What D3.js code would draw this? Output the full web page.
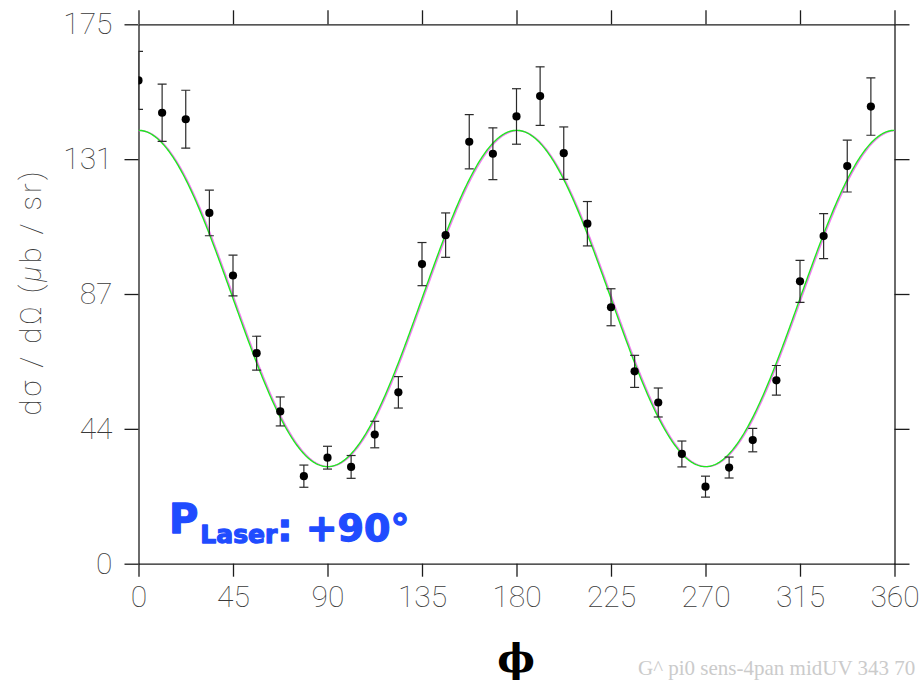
<!DOCTYPE html>
<html>
<head>
<meta charset="utf-8">
<script src="https://cdn.jsdelivr.net/npm/d3@7"></script>
<style>
  html, body { margin: 0; padding: 0; background: #fff; }
  svg { display: block; }
  .tick text { font-family: Roboto, Lato, "DejaVu Sans", sans-serif; font-weight: 100; }
</style>
</head>
<body>
<svg id="chart" width="923" height="686"></svg>
<script>
// Azimuthal angle bins (degrees)
const phiDeg = [0, 11.25, 22.5, 33.75, 45, 56.25, 67.5, 78.75, 90, 101.25, 112.5, 123.75,
  135, 146.25, 157.5, 168.75, 180, 191.25, 202.5, 213.75, 225, 236.25, 247.5, 258.75,
  270, 281.25, 292.5, 303.75, 315, 326.25, 337.5, 348.75];
// Measured dσ/dΩ (μb/sr) and statistical errors
const crossSection = [156.8, 146.3, 144.2, 113.8, 93.5, 68.3, 49.4, 28.4, 34.4, 31.4, 41.9, 55.6,
  97.2, 106.6, 136.9, 133.0, 145.1, 151.7, 133.2, 110.3, 83.2, 62.4, 52.3, 35.6,
  25.0, 31.2, 40.1, 59.5, 91.6, 106.3, 129.0, 148.3];
const crossSectionErr = [9.4, 9.3, 9.4, 7.4, 6.6, 5.5, 4.7, 3.6, 3.7, 3.7, 4.3, 5.1,
  7.0, 7.2, 8.8, 8.4, 9.0, 9.5, 8.5, 7.2, 6.0, 5.2, 4.7, 4.2,
  3.4, 3.4, 3.8, 4.8, 6.8, 7.3, 8.4, 9.3];
// Fit curves  A + B·cos(2(φ − δ)) : two fits, drawn in order
const fitNames = ["fit2", "fit1"];
const fitOffset = [86.0, 86.05];
const fitAmplitude = [54.5, 54.55];
const fitShift = [0.6, 0];
const fitColors = ["#f27af2", "#1fe81f"];
// Axis ticks
const xTicks = [0, 45, 90, 135, 180, 225, 270, 315, 360];
const yTicks = [0, 43.75, 87.5, 131.25, 175];
const yTickLabels = ["0", "44", "87", "131", "175"];

const svg = d3.select("#chart");
const L = 138.5, R = 894.5, T = 24.3, B = 563.7;
const x = d3.scaleLinear().domain([0, 360]).range([L, R]);
const y = d3.scaleLinear().domain([0, 175]).range([B, T]);

const axisColor = "#1c1c1c";
function styleAxis(g) {
  g.selectAll("path.domain").attr("stroke", axisColor).attr("stroke-width", 1.3);
  g.selectAll(".tick line").attr("stroke", axisColor).attr("stroke-width", 1.3);
  g.selectAll(".tick text").attr("fill", "#3a3a3a").style("font-size", "30px");
}

// Bottom axis with labels
svg.append("g").attr("transform", `translate(0,${B})`)
  .call(d3.axisBottom(x).tickValues(xTicks).tickSize(13).tickSizeOuter(0).tickPadding(9).tickFormat(d3.format("d")))
  .call(styleAxis);
// Top axis (ticks only)
svg.append("g").attr("transform", `translate(0,${T})`)
  .call(d3.axisTop(x).tickValues(xTicks).tickSize(14).tickSizeOuter(0).tickFormat(""))
  .call(styleAxis);
// Left axis with labels
svg.append("g").attr("transform", `translate(${L},0)`)
  .call(d3.axisLeft(y).tickValues(yTicks).tickSize(14).tickSizeOuter(0).tickPadding(12)
    .tickFormat((d, i) => yTickLabels[i]))
  .call(styleAxis);
// Right axis (ticks only)
svg.append("g").attr("transform", `translate(${R},0)`)
  .call(d3.axisRight(y).tickValues(yTicks).tickSize(15).tickSizeOuter(0).tickFormat(""))
  .call(styleAxis);

// Plot-area clip
svg.append("defs").append("clipPath").attr("id", "plotClip")
  .append("rect").attr("x", L).attr("y", 0).attr("width", R - L).attr("height", B);
const plot = svg.append("g").attr("clip-path", "url(#plotClip)");

// Fit curves
const phiFine = d3.range(0, 360.01, 0.5);
fitNames.forEach((name, k) => {
  const line = d3.line()
    .x(p => x(p))
    .y(p => y(fitOffset[k] + fitAmplitude[k] * Math.cos(2 * (p - fitShift[k]) * Math.PI / 180)));
  plot.append("path").datum(phiFine)
    .attr("class", name)
    .attr("d", line)
    .attr("fill", "none")
    .attr("stroke", fitColors[k])
    .attr("stroke-width", 1.4);
});

// Data points with error bars
const pts = phiDeg.map((p, i) => ({ phi: p, v: crossSection[i], e: crossSectionErr[i] }));
const capW = 4.5;
const eb = plot.append("g").attr("stroke", "#2a2a2a").attr("stroke-width", 1.2);
eb.selectAll("line.bar").data(pts).join("line").attr("class", "bar")
  .attr("x1", d => x(d.phi)).attr("x2", d => x(d.phi))
  .attr("y1", d => y(d.v + d.e)).attr("y2", d => y(d.v - d.e));
eb.selectAll("line.capTop").data(pts).join("line").attr("class", "capTop")
  .attr("x1", d => x(d.phi) - capW).attr("x2", d => x(d.phi) + capW)
  .attr("y1", d => y(d.v + d.e)).attr("y2", d => y(d.v + d.e));
eb.selectAll("line.capBot").data(pts).join("line").attr("class", "capBot")
  .attr("x1", d => x(d.phi) - capW).attr("x2", d => x(d.phi) + capW)
  .attr("y1", d => y(d.v - d.e)).attr("y2", d => y(d.v - d.e));
plot.append("g").selectAll("circle").data(pts).join("circle")
  .attr("cx", d => x(d.phi)).attr("cy", d => y(d.v)).attr("r", 4.1).attr("fill", "#000");

// Y axis title
svg.append("text")
  .attr("transform", "translate(41,292) rotate(-90)")
  .attr("text-anchor", "middle")
  .attr("fill", "#3a3a3a")
  .style("font-family", "Roboto, Lato, 'DejaVu Sans', sans-serif")
  .style("font-weight", 100)
  .style("font-size", "29px")
  .style("letter-spacing", "3px")
  .html('dσ / dΩ  (<tspan font-style="italic">μ</tspan>b / sr)');

// X axis title
svg.append("text")
  .attr("x", 516).attr("y", 672)
  .attr("text-anchor", "middle")
  .attr("fill", "#000")
  .style("font-family", "'DejaVu Serif', serif")
  .style("font-weight", "bold")
  .style("font-size", "40px")
  .text("ϕ");

// Polarisation label
const lab = svg.append("text")
  .attr("x", 169).attr("y", 533)
  .attr("fill", "#1f4cff").attr("stroke", "#1f4cff").attr("stroke-width", 1.3)
  .attr("stroke-linejoin", "round")
  .style("font-family", "'DejaVu Sans', sans-serif")
  .style("font-weight", "bold");
lab.append("tspan").style("font-size", "40px").text("P");
lab.append("tspan").attr("dx", 2).attr("dy", 10).style("font-size", "25px").text("Laser");
lab.append("tspan").attr("dy", -2).style("font-size", "38px").text(": +90°");

// Footer tag
svg.append("text")
  .attr("x", 638).attr("y", 675)
  .attr("fill", "#cbcbcb")
  .style("font-family", "'Liberation Serif', serif")
  .style("font-size", "21px")
  .text("G^ pi0 sens-4pan midUV 343 70");
</script>
</body>
</html>
